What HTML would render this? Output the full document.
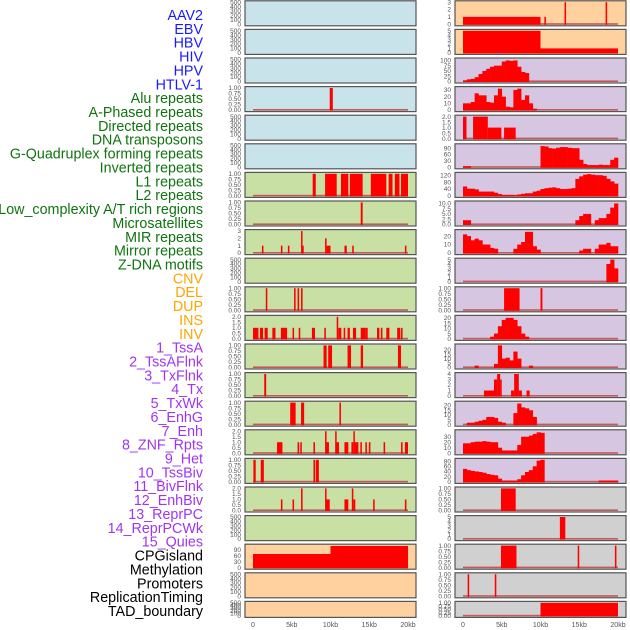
<!DOCTYPE html>
<html><head><meta charset="utf-8"><style>
html,body{margin:0;padding:0;background:#fff}
svg{display:block}
.lab{font-family:"Liberation Sans",sans-serif;font-size:14.3px}
.tk{font-family:"Liberation Sans",sans-serif;font-size:6.5px;fill:#555}
.xt{font-family:"Liberation Sans",sans-serif;font-size:7px;fill:#555}
</style></head><body>
<svg id="chart" width="630" height="630" viewBox="0 0 630 630"></svg>
<script>
// ---- data ----
const trackLabels = ["AAV2","EBV","HBV","HIV","HPV","HTLV-1","Alu repeats","A-Phased repeats","Directed repeats","DNA transposons","G-Quadruplex forming repeats","Inverted repeats","L1 repeats","L2 repeats","Low_complexity A/T rich regions","Microsatellites","MIR repeats","Mirror repeats","Z-DNA motifs","CNV","DEL","DUP","INS","INV","1_TssA","2_TssAFlnk","3_TxFlnk","4_Tx","5_TxWk","6_EnhG","7_Enh","8_ZNF_Rpts","9_Het","10_TssBiv","11_BivFlnk","12_EnhBiv","13_ReprPC","14_ReprPCWk","15_Quies","CPGisland","Methylation","Promoters","ReplicationTiming","TAD_boundary"];
const labelGroups = ["virus","virus","virus","virus","virus","virus","repeat","repeat","repeat","repeat","repeat","repeat","repeat","repeat","repeat","repeat","repeat","repeat","repeat","sv","sv","sv","sv","sv","chrom","chrom","chrom","chrom","chrom","chrom","chrom","chrom","chrom","chrom","chrom","chrom","chrom","chrom","chrom","other","other","other","other","other"];
const xTickLabels = ["0","5kb","10kb","15kb","20kb"];
const xTickValues = [0,5,10,15,20];

const T500=["0","100","200","300","400","500"], T1=["0.00","0.25","0.50","0.75","1.00"], T2=["0.0","0.5","1.0","1.5","2.0"], T3=["0","1","2","3"], T5=["0","1","2","3","4","5"];

// segments [startKb, endKb, value]
const hivSegs=[[9.9,10.3,1]];
const aluSegs=[[7.7,8.1,1],[9.3,10.8,1],[11.35,12.3,1],[12.5,14.15,1],[15.2,17.2,1],[17.5,18.0,1],[18.3,18.9,1],[19.1,20.0,1]];
const aphasedSegs=[[13.9,14.15,1]];
const directedSegs=[[1.15,1.35,1],[3.6,3.8,1],[4.5,4.7,1],[6.2,6.35,3],[6.35,6.5,1],[9.3,9.5,2],[9.5,10.0,1],[11.8,12.1,1],[12.8,13.0,1],[19.6,19.8,1]];
const gquadSegs=[[1.65,1.85,1],[5.3,5.5,1],[5.75,5.95,1],[6.2,6.4,1]];
const invertedSegs=[[0,0.7,1],[0.9,1.3,1],[1.5,1.9,1],[2.5,2.9,1],[3.6,4.4,1],[5.1,5.3,1],[5.9,6.1,1],[7.6,8.0,1],[9.2,9.4,1],[10.8,11.0,2],[11.0,11.4,1],[11.7,11.9,1],[12.2,12.5,1],[12.9,13.3,1],[13.9,14.5,1],[14.5,14.8,1],[16.0,16.3,1],[16.5,16.7,1],[17.2,17.6,1],[18.6,19.0,1],[19.1,19.3,1]];
const l1Segs=[[9.1,9.5,1],[9.7,10.2,1],[12.2,12.65,1],[13.9,14.2,1],[18.7,19.1,1]];
const l2Segs=[[1.45,1.7,1]];
const lowcSegs=[[4.8,5.5,1],[6.2,6.6,1],[11.15,11.35,1]];
const microSegs=[[3.1,3.8,1],[5.75,5.95,1],[6.1,6.3,1],[7.8,8.0,1],[9.3,9.45,2],[9.45,9.8,1],[10.6,10.75,2],[10.75,11.1,1],[11.8,12.3,1],[12.7,12.95,1],[12.95,13.1,2],[13.1,13.6,1],[13.85,14.05,1],[14.5,14.7,1],[14.95,15.15,1],[16.85,17.05,1],[19.1,19.3,1],[19.6,20.0,1]];
const mirSegs=[[0.05,0.35,1],[1.0,1.4,1],[7.8,8.0,1],[8.1,8.5,1]];
const mirrorSegs=[[3.6,3.8,1],[5.1,5.3,1],[6.2,6.4,2],[9.3,9.45,2],[9.45,9.9,1],[11.8,12.3,1],[12.75,12.95,2],[12.95,13.2,1],[15.5,15.7,1],[19.6,19.8,1]];
const cnvSegs=[[0,10,68],[10,20,108]];
const insSegs=[[0,10,1],[10.5,10.7,1],[13.1,13.3,3],[18.4,18.6,3]];
const invSegs=[[0,10,5],[10,20,1]];
const txflnkSegs=[[0,0.45,2],[1.3,3.2,2],[3.2,4.95,1],[5.3,6.8,1]];
const hetSegs=[[5.3,7.3,1],[10.0,10.25,1]];
const enhbivSegs=[[2.7,4.0,1],[4.0,4.4,3],[4.4,4.8,4],[4.8,5.0,3],[6.2,6.6,1],[6.6,7.2,4],[7.2,7.6,1],[8.2,8.6,1]];
const cpgSegs=[[4.9,6.8,1]];
const methSegs=[[12.5,13.2,5]];
const promSegs=[[4.9,6.9,1],[14.8,15.0,1],[19.6,19.8,1]];
const repSegs=[[0.6,0.8,1],[4.1,4.3,1]];
const tadSegs=[[10,20,1]];

// histogram bins, 0.5kb each starting at 0
const tssaBins=[5,10,12,20,35,50,60,70,75,75,95,100,98,100,70,45,40];
const tssaflnkBins=[10,10,12,25,22,22,12,11,22,32,20,5,4,30,32,15,22,10,2];
const txBins=[5,5,0,0,0,0,0,0,0,0,0,0,0,0,0,0,0,0,0,0,100,98,90,88,92,95,95,92,90,90,35,15,10,10,10,12,10,10,35,45];
const txwkBins=[55,42,42,38,25,25,25,25,18,10,5,5,5,3,8,12,15,15,25,30,40,45,48,50,45,40,40,42,45,100,115,125,128,125,122,122,118,100,85,72];
const enhgBins=[2,2,0,0,0,0,0,0,0,0,0,0,0,0,0,0,0,0,0,0,0,0,0,0,0,0,0,0,0,2,4,5,5,0,2,3,3,5,8,10];
const enhBins=[22,20,15,17,15,10,10,6,5,0,0,0,0,5,10,13,25,25,8,4,0,0,0,0,0,0,0,0,0,0,3,5,5,0,5,10,10,12,8,8];
const znfBins=[0,0,0,0,0,0,0,0,0,0,0,0,0,0,0,0,0,0,0,0,0,0,0,0,0,0,0,0,0,0,0,0,0,0,0,0,0,4,5,3];
const tssbivBins=[0,0,0,0,0,0,0,2,5,12,18,20,20,18,12,5,2];
const bivflnkBins=[0,0,0,2,0,0,0,0,4,25,10,11,8,18,10,0,0,2];
const reprpcBins=[0,2,2,3,4,5,8,8,7,3,2,0,0,12,22,18,17,15,8];
const reprpcwkBins=[18,18,20,21,21,22,21,20,20,10,5,5,5,5,15,30,30,32,35,38,37];
const quiesBins=[50,45,42,40,38,35,30,27,25,12,5,5,5,5,10,25,38,45,60,82,85,0,0,0,0,0,0,0,0,0,0,0,0,0,0,5,5,5,5,5];

// panel definitions: column, row, background group, ticks, y max, data
const panels=[
 [0,0,"blue",T500,500,null,null],[0,1,"blue",T500,500,null,null],[0,2,"blue",T500,500,null,null],
 [0,3,"blue",T1,1,hivSegs,null],[0,4,"blue",T500,500,null,null],[0,5,"blue",T500,500,null,null],
 [0,6,"green",T1,1,aluSegs,null],[0,7,"green",T1,1,aphasedSegs,null],[0,8,"green",T3,3,directedSegs,null],
 [0,9,"green",T500,500,null,null],[0,10,"green",T1,1,gquadSegs,null],[0,11,"green",T2,2,invertedSegs,null],
 [0,12,"green",T1,1,l1Segs,null],[0,13,"green",T1,1,l2Segs,null],[0,14,"green",T1,1,lowcSegs,null],
 [0,15,"green",T2,2,microSegs,null],[0,16,"green",T1,1,mirSegs,null],[0,17,"green",T2,2,mirrorSegs,null],
 [0,18,"green",T500,500,null,null],[0,19,"orange",["0","30","60","90"],110,cnvSegs,null],
 [0,20,"orange",T500,500,null,null],[0,21,"orange",T500,500,null,null],
 [1,0,"orange",T3,3,insSegs,null],[1,1,"orange",T5,5,invSegs,null],
 [1,2,"purple",["0","25","50","75","100"],105,null,tssaBins],[1,3,"purple",["0","10","20","30"],33,null,tssaflnkBins],
 [1,4,"purple",T2,2,txflnkSegs,null],[1,5,"purple",["0","30","60","90"],104,null,txBins],
 [1,6,"purple",["0","40","80","120"],130,null,txwkBins],[1,7,"purple",["0.0","2.5","5.0","7.5","10.0"],10.5,null,enhgBins],
 [1,8,"purple",["0","10","20"],26,null,enhBins],[1,9,"purple",T5,5,null,znfBins],
 [1,10,"purple",T1,1,hetSegs,null],[1,11,"purple",["0","5","10","15","20"],21,null,tssbivBins],
 [1,12,"purple",["0","5","10","15","20"],25,null,bivflnkBins],[1,13,"purple",["0","1","2","3","4"],4,enhbivSegs,null],
 [1,14,"purple",["0","5","10","15","20"],23,null,reprpcBins],[1,15,"purple",["0","10","20","30"],40,null,reprpcwkBins],
 [1,16,"purple",["0","20","40","60","80"],85,null,quiesBins],
 [1,17,"gray",T1,1,cpgSegs,null],[1,18,"gray",T5,5,methSegs,null],[1,19,"gray",T1,1,promSegs,null],
 [1,20,"gray",T1,1,repSegs,null],[1,21,"gray",T1,1,tadSegs,null]
];

// ---- styles / geometry ----
const NS="http://www.w3.org/2000/svg";
const svg=document.getElementById("chart");
const bgColors={blue:"#c8e3ea",green:"#c8e0a4",orange:"#ffd19e",purple:"#d7c6e2",gray:"#d0d0d0"};
const labColors={virus:"#1a1aff",repeat:"#0f740f",sv:"#ffa500",chrom:"#a035f0",other:"#000"};
const colX=[245,455], panelW=171, dataX0=[253,463], dataW=155;
function xScale(col,kb){return dataX0[col]+kb/20*dataW;}
function rowTop(r){return 0.8+r*28.6;}
function rowH(r){return r===21?16:25;}
function mk(tag,attrs,parent){const e=document.createElementNS(NS,tag);for(const k in attrs)e.setAttribute(k,attrs[k]);(parent||svg).appendChild(e);return e;}

// labels
trackLabels.forEach((t,i)=>{
 const e=mk("text",{x:203,y:15+i*13.86+5,"text-anchor":"end",class:"lab",fill:labColors[labelGroups[i]]});
 e.textContent=t;
 
 
});

panels.forEach((p,pi)=>{
 const [col,row,bg,ticks,ymax,segs,bins]=p;
 const T=rowTop(row),H=rowH(row),X=colX[col];
 const y0=T+H-1.6, yT=T+1.4;
 const yScale=v=>y0-Math.min(v,ymax)/ymax*(y0-yT);
 const g=mk("g",{});
 
 
 mk("rect",{x:X,y:T,width:panelW,height:H,fill:bgColors[bg],stroke:"#555","stroke-width":1.2},g);
 ticks.forEach(t=>{
  const e=mk("text",{x:X-4,y:yScale(parseFloat(t))+2.2,"text-anchor":"end",class:"tk"},g);
  e.textContent=t;
  
  
 });
 if(segs||bins){
  const bl=mk("rect",{x:xScale(col,0),y:y0-1,width:dataW,height:1.6,fill:"#c25a5a"},g);
  
  
 }
 if(segs){
  segs.forEach(s=>{
   const x1=xScale(col,s[0]),x2=xScale(col,s[1]);
   const r=mk("rect",{x:x1,y:yScale(s[2]),width:Math.max(1.5,x2-x1),height:y0-yScale(s[2])+0.6,fill:"#ff0000"},g);
   
   
  });
 }
 if(bins){
  bins.forEach((v,i)=>{
   if(!v)return;
   const x1=xScale(col,i*0.5),x2=xScale(col,i*0.5+0.5);
   const r=mk("rect",{x:x1,y:yScale(v),width:x2-x1+0.3,height:y0-yScale(v)+0.6,fill:"#ff0000"},g);
   
   
  });
 }
});

// x-axis tick labels
[0,1].forEach(col=>{
 xTickValues.forEach((v,i)=>{
  const e=mk("text",{x:xScale(col,v),y:627,"text-anchor":"middle",class:"xt"});
  e.textContent=xTickLabels[i];
  
  
 });
});
</script>
</body></html>
